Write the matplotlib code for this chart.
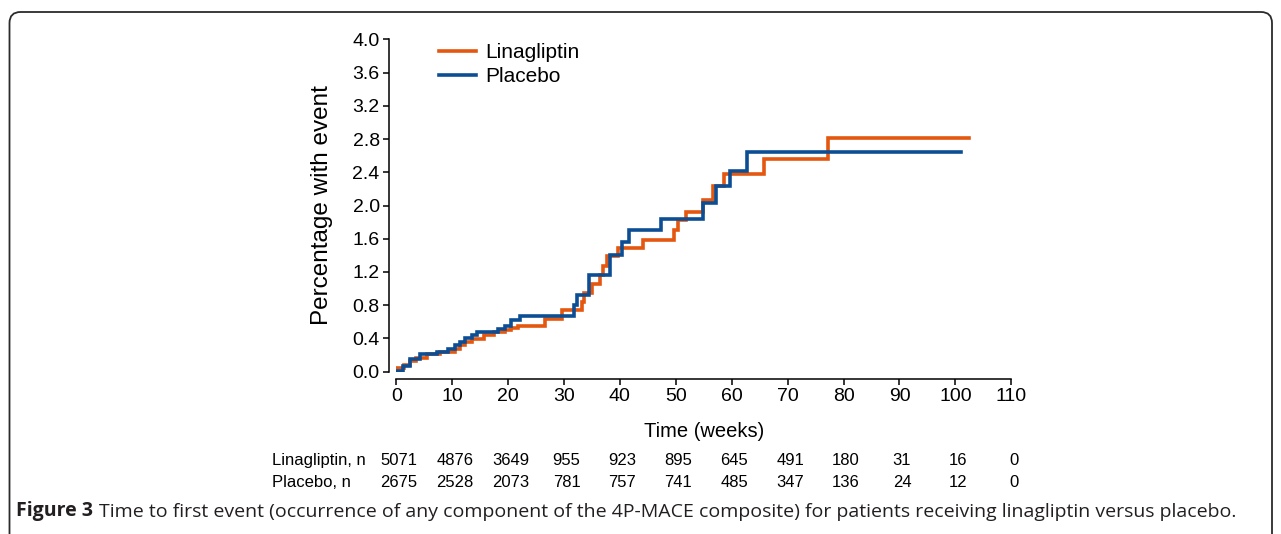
import numpy as np
import matplotlib
matplotlib.use("Agg")
import matplotlib.pyplot as plt
from matplotlib.path import Path
from matplotlib.patches import PathPatch
from matplotlib.transforms import blended_transform_factory, ScaledTranslation

# Kaplan-Meier style step data (weeks, % with event)
lina_weeks = [0, 1.3, 2.5, 3.6, 5.5, 7.9, 10.5, 11.4, 12.3, 13.5, 15.6, 17.5, 19.4,
              20.6, 21.8, 26.6, 29.6, 33.2, 33.6, 35.0, 36.4, 36.9, 37.7, 39.7,
              44.2, 49.7, 50.4, 51.9, 54.9, 56.7, 58.7, 65.7, 77.3, 102.4]
lina_pct = [0.05, 0.08, 0.13, 0.16, 0.21, 0.24, 0.27, 0.32, 0.36, 0.39, 0.44, 0.48, 0.50,
            0.52, 0.55, 0.64, 0.74, 0.84, 0.95, 1.06, 1.16, 1.27, 1.39, 1.485,
            1.59, 1.71, 1.83, 1.925, 2.07, 2.23, 2.38, 2.56, 2.81, 2.81]

plac_weeks = [0, 1.25, 2.45, 4.24, 7.2, 9.3, 10.5, 11.4, 12.3, 13.5, 14.5, 18.2, 19.4,
              20.6, 22.1, 31.8, 32.3, 34.5, 38.2, 40.3, 41.6, 47.3, 54.9, 57.2,
              59.7, 62.7, 101]
plac_pct = [0.01, 0.07, 0.15, 0.21, 0.24, 0.27, 0.32, 0.36, 0.40, 0.44, 0.48, 0.51, 0.55,
            0.62, 0.67, 0.80, 0.92, 1.16, 1.40, 1.565, 1.71, 1.84, 2.03, 2.23,
            2.415, 2.64, 2.64]

# numbers at risk, one per x tick
lina_n = [5071, 4876, 3649, 955, 923, 895, 645, 491, 180, 31, 16, 0]
plac_n = [2675, 2528, 2073, 781, 757, 741, 485, 347, 136, 24, 12, 0]
row_labels = ["Linagliptin, n", "Placebo, n"]

x_ticks = np.arange(0, 111, 10)
y_ticks = np.arange(0, 4.01, 0.4)

caption_bold = "Figure 3"
caption_rest = ("Time to first event (occurrence of any component of the 4P-MACE composite) "
                "for patients receiving linagliptin versus placebo.")

ORANGE = "#e4570f"
BLUE = "#0c4e94"
W, H = 1281, 534

plt.rcParams["font.family"] = ["Liberation Sans", "DejaVu Sans"]

fig = plt.figure(figsize=(W / 100, H / 100), dpi=100)
ax = fig.add_axes([396.3 / W, 1 - 371.7 / H, 615 / W, 332.4 / H])

ax.step(lina_weeks, lina_pct, where="post", color=ORANGE, lw=2.6,
        label="Linagliptin", solid_joinstyle="miter", zorder=3)
ax.step(plac_weeks, plac_pct, where="post", color=BLUE, lw=2.6,
        label="Placebo", solid_joinstyle="miter", zorder=4)

ax.set_xlim(0, 110)
ax.set_ylim(0, 4.0)
ax.set_xticks(x_ticks)
ax.set_yticks(y_ticks)
ax.set_yticklabels([f"{v:.1f}" for v in y_ticks])
ax.tick_params(labelsize=14, length=4, width=1.1, direction="out", pad=3)

for s in ["top", "right"]:
    ax.spines[s].set_visible(False)
for s in ["left", "bottom"]:
    ax.spines[s].set_linewidth(1.1)
    ax.spines[s].set_position(("outward", 5))

ax.set_xlabel("Time (weeks)", fontsize=14.5)
ax.set_ylabel("Percentage with event", fontsize=17.5)
ax.xaxis.set_label_coords(0.5, -0.152)
ax.yaxis.set_label_coords(-0.103, 0.5)

ax.legend(loc="upper left", bbox_to_anchor=(0.069, 0.988), frameon=False,
          fontsize=15, handlelength=1.8, handletextpad=0.45,
          labelspacing=0.25, borderpad=0, borderaxespad=0)

# number at risk table, columns under the x ticks
col_tr = blended_transform_factory(ax.transData, fig.transFigure) + \
    ScaledTranslation(2.5 / 100, 0, fig.dpi_scale_trans)
for row_y, label, counts in [(460.7, row_labels[0], lina_n), (482.7, row_labels[1], plac_n)]:
    fig.text(272.5 / W, 1 - row_y / H, label, ha="left", va="center", fontsize=12)
    for wk, n in zip(x_ticks, counts):
        ax.text(wk, 1 - row_y / H, str(n), transform=col_tr, ha="center",
                va="center", fontsize=12, clip_on=False)

# caption
cap = fig.text(16 / W, 1 - 521 / H, caption_bold, ha="left", va="bottom",
               fontsize=14, family="Open Sans", fontweight="bold", color="#231f20")
ax.annotate(caption_rest, xy=(1, 0), xycoords=cap, xytext=(4, 0),
            textcoords="offset points", ha="left", va="bottom", fontsize=14,
            family="Open Sans", color="#231f20", annotation_clip=False)

# rounded frame, open at the bottom
r = 11
xl, xr, yt = 9.5, 1272, 12
verts = [(xl, H + 5), (xl, yt + r), (xl, yt), (xl + r, yt), (xr - r, yt),
         (xr, yt), (xr, yt + r), (xr, H + 5)]
codes = [Path.MOVETO, Path.LINETO, Path.CURVE3, Path.CURVE3, Path.LINETO,
         Path.CURVE3, Path.CURVE3, Path.LINETO]
verts = [(x / W, 1 - y / H) for x, y in verts]
frame = PathPatch(Path(verts, codes), fill=False, lw=1.3, edgecolor="#2b2b2b",
                  transform=fig.transFigure)
fig.patches.append(frame)

fig.savefig("out.png", dpi=100)
